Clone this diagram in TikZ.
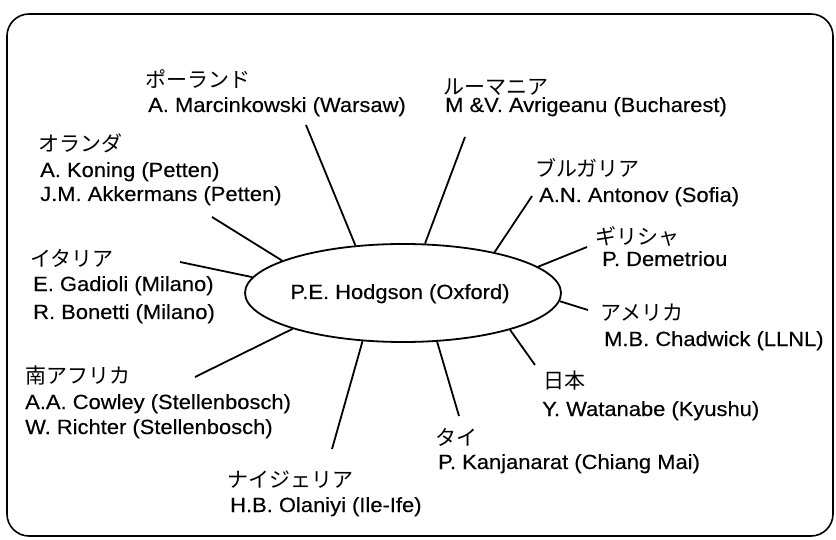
\documentclass[tikz,border=0pt]{standalone}
\usepackage{fontspec}
\setmainfont{Liberation Sans}[FakeStretch=1.07,FakeBold=0.3]
\newfontfamily\jp{Noto Sans CJK JP}
\usetikzlibrary{shapes.geometric}
\tikzset{
  en/.style={anchor=base west, inner sep=0pt, font=\fontsize{20.5}{24}\selectfont},
  ja/.style={anchor=base west, inner sep=0pt, font=\jp\fontsize{21}{24}\selectfont},
  conn/.style={line width=1.8pt},
}
\begin{document}
\begin{tikzpicture}[x=1pt,y=-1pt]
\useasboundingbox (0,0) rectangle (836,540);
\draw[line width=1.6pt, rounded corners=22pt] (7,14) rectangle (833,536);
\node[draw, ellipse, line width=1.8pt, minimum width=316pt, minimum height=98pt, inner sep=0pt] (hub) at (403,293) {};
\node[anchor=base, inner sep=0pt, font=\fontsize{20.5}{24}\selectfont] (hubt) at (400,299) {P.E. Hodgson (Oxford)};
% Poland
\node[ja] (polj) at (145,88) {ポーランド};
\node[en] (poln) at (148,112) {A. Marcinkowski (Warsaw)};
\coordinate (polc) at (306,125);
% Romania
\node[ja] (romj) at (443,95) {ルーマニア};
\node[en] (romn) at (445,112) {M \&V. Avrigeanu (Bucharest)};
\coordinate (romc) at (465,137);
% Netherlands
\node[ja] (nedj) at (38,152) {オランダ};
\node[en] (nedn1) at (40,177) {A. Koning (Petten)};
\node[en] (nedn2) at (40,201) {J.M. Akkermans (Petten)};
\coordinate (nedc) at (212,217);
% Bulgaria
\node[ja] (bulj) at (535,177) {ブルガリア};
\node[en] (buln) at (539,202) {A.N. Antonov (Sofia)};
\coordinate (bulc) at (532,196);
% Greece
\node[ja] (grej) at (595,245) {ギリシャ};
\node[en] (gren) at (602,266) {P. Demetriou};
\coordinate (grec) at (587,247);
% Italy
\node[ja] (itaj) at (30,267) {イタリア};
\node[en] (itan1) at (33,291) {E. Gadioli (Milano)};
\node[en] (itan2) at (33,319) {R. Bonetti (Milano)};
\coordinate (itac) at (180,262);
% America
\node[ja] (amej) at (600,320) {アメリカ};
\node[en] (amen) at (604,346) {M.B. Chadwick (LLNL)};
\coordinate (amec) at (588,310);
% South Africa
\node[ja] (rsaj) at (25,383) {南アフリカ};
\node[en] (rsan1) at (25,409) {A.A. Cowley (Stellenbosch)};
\node[en] (rsan2) at (25,434) {W. Richter (Stellenbosch)};
\coordinate (rsac) at (195,377);
% Japan
\node[ja] (jpnj) at (543,388) {日本};
\node[en] (jpnn) at (542,416) {Y. Watanabe (Kyushu)};
\coordinate (jpnc) at (535,365);
% Thailand
\node[ja] (thaj) at (435,445) {タイ};
\node[en] (than) at (438,469) {P. Kanjanarat (Chiang Mai)};
\coordinate (thac) at (459,416);
% Nigeria
\node[ja] (nigj) at (227,487) {ナイジェリア};
\node[en] (nign) at (230,512) {H.B. Olaniyi (Ile-Ife)};
\coordinate (nigc) at (332,449);
% connectors
\draw[conn] (hub.135) -- (polc);
\draw[conn] (hub.66.3) -- (romc);
\draw[conn] (hub.165.2) -- (nedc);
\draw[conn] (hub.24.8) -- (bulc);
\draw[conn] (hub.11.7) -- (grec);
\draw[conn] (hub.174.5) -- (itac);
\draw[conn] (hub.357) -- (amec);
\draw[conn] (hub.198.1) -- (rsac);
\draw[conn] (hub.341.7) -- (jpnc);
\draw[conn] (hub.305.9) -- (thac);
\draw[conn] (hub.230.8) -- (nigc);
\end{tikzpicture}
\end{document}
